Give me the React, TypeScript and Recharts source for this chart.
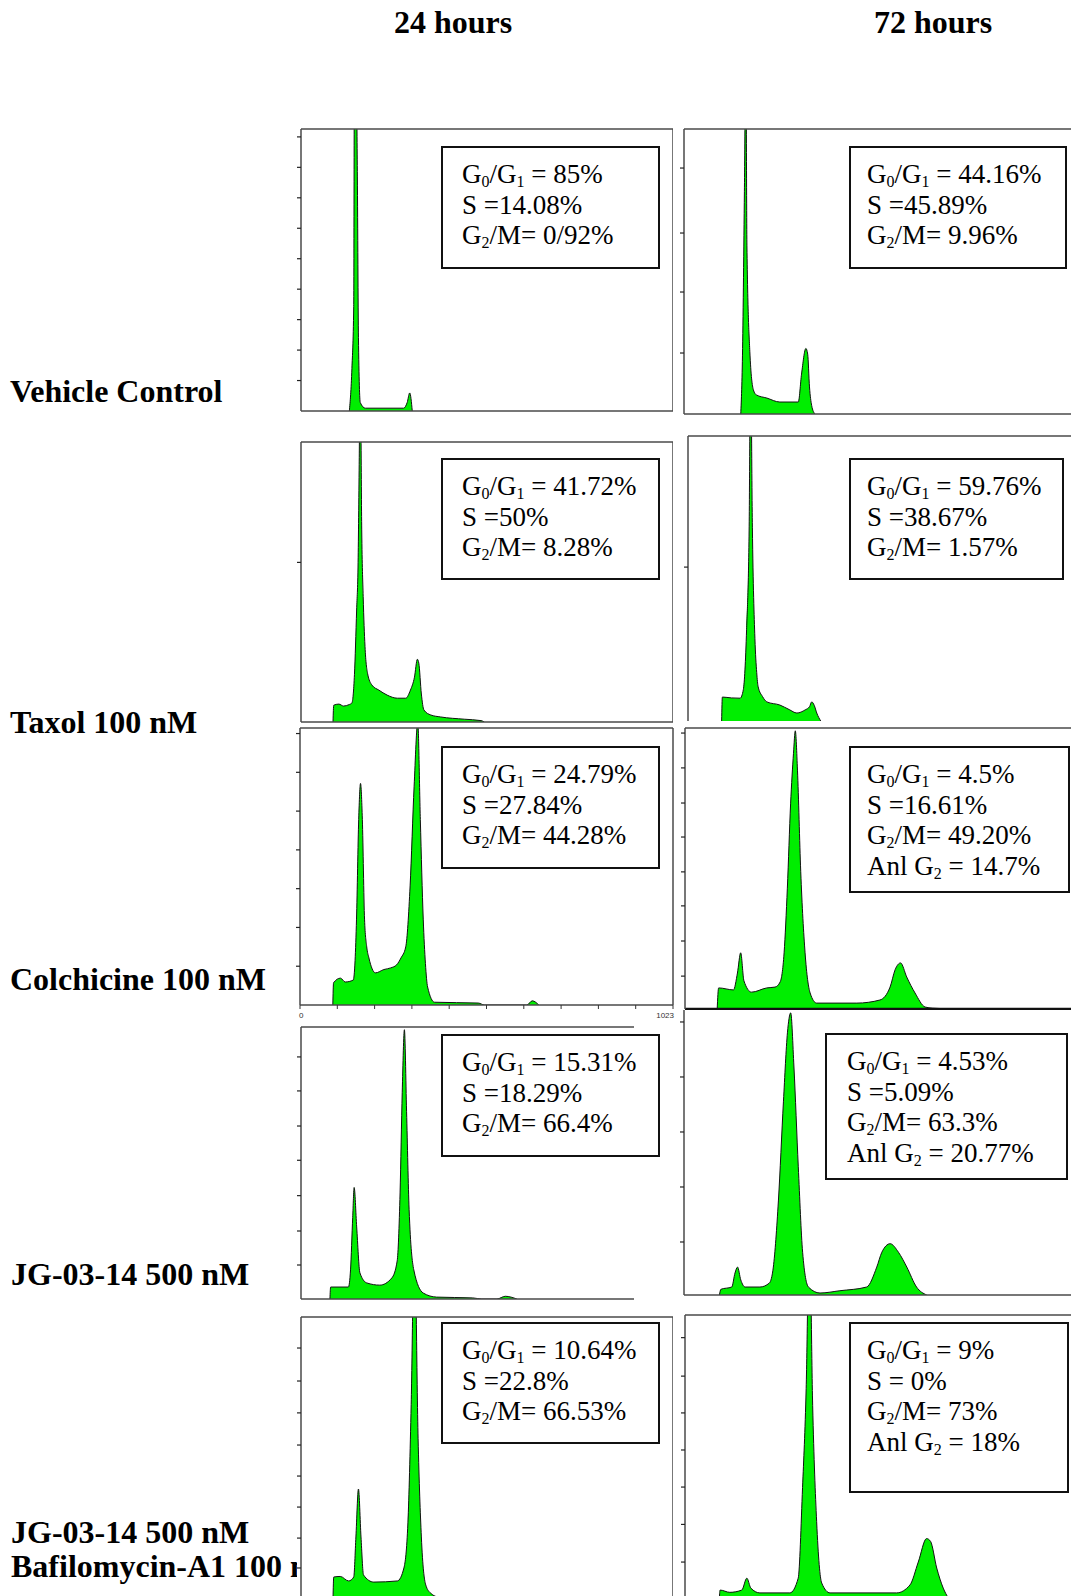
import React from "react"
import { Area, AreaChart, ReferenceLine, XAxis, YAxis } from "recharts"

// DNA histograms: [channel, count as % of panel height]; > 100 runs off the top
const vehicle24h = [[133, 0], [140, 15], [145, 37], [147, 130], [151, 130], [155, 83], [158, 26], [163, 3], [177, 1], [282, 1], [292, 3], [299, 6.4], [306, 0]]
const vehicle72h = [[157, 0], [162, 23], [167, 78], [171, 130], [174, 59], [182, 22], [192, 8.4], [200, 6.7], [229, 5.6], [265, 4.2], [316, 4.2], [325, 14], [337, 23], [342, 21], [347, 9.5], [353, 3], [362, 0]]
const taxol24h = [[88, 0], [90, 6], [104, 6.4], [117, 5.7], [132, 6.2], [140, 6.8], [147, 17], [153, 40], [157, 57], [160, 92], [163, 130], [167, 68.6], [171, 44.8], [176, 27], [183, 17.4], [195, 13.2], [214, 11.4], [237, 9.6], [265, 8.5], [288, 8.5], [301, 11.4], [312, 16], [320, 22.4], [324, 21], [331, 10], [338, 4.3], [357, 2.5], [384, 1.8], [449, 1], [495, 0.5], [504, 0]]
const taxol72h = [[93, 0], [95, 8.4], [120, 8.1], [144, 8], [153, 11], [162, 32], [169, 67], [173, 130], [178, 68], [185, 29], [190, 17], [194, 12], [206, 8.6], [218, 6.7], [254, 5.6], [280, 4], [301, 2.8], [324, 3.9], [336, 5], [342, 6.7], [349, 5.5], [356, 2.8], [367, 0]]
const colchicine24h = [[90, 0], [92, 8], [111, 9.7], [124, 8.3], [146, 9], [151, 16], [155, 31], [161, 67], [166, 80], [171, 67], [177, 31], [183, 21], [189, 17], [207, 11.6], [230, 12.8], [249, 13.4], [265, 14.5], [277, 17], [290, 21], [302, 43], [313, 79], [323, 102], [330, 67], [338, 31], [344, 15], [350, 6.5], [369, 1], [489, 0.7], [506, 0], [622, 0], [637, 1.5], [655, 0]]
const colchicine72h = [[89, 0], [93, 7.5], [134, 6.8], [145, 12.8], [154, 20], [163, 10], [184, 6], [226, 7.5], [249, 7.8], [263, 9.6], [274, 20], [283, 43], [292, 73], [300, 91], [305, 99], [311, 85], [320, 49], [332, 20], [346, 5.7], [364, 2.1], [475, 2.1], [539, 3.2], [567, 7.8], [581, 14], [596, 16.4], [613, 11.4], [636, 5.7], [664, 0.7], [685, 0.3], [751, 0]]
const jg24h = [[80, 0], [82, 4.4], [131, 4.4], [137, 10.7], [143, 30], [147, 41], [154, 26.5], [163, 9.6], [182, 5.9], [218, 5.1], [251, 7.7], [266, 14], [274, 39], [280, 76], [286, 99], [292, 69], [299, 33], [312, 10.7], [338, 2.2], [375, 0.7], [475, 0.4], [500, 0], [542, 0], [565, 1], [597, 0]]
const jg72h = [[98, 0], [102, 2], [132, 2.8], [141, 7.7], [148, 9.8], [157, 5.3], [169, 2.8], [210, 2.8], [236, 4.2], [247, 9.8], [261, 33], [275, 68], [286, 92], [295, 99], [304, 80], [316, 45], [328, 15], [344, 2.8], [376, 0.7], [431, 1.5], [505, 2.8], [533, 9.8], [547, 15], [570, 18], [593, 15], [616, 9.8], [643, 2.8], [671, 0]]
const jgBaf24h = [[88, 0], [90, 7.8], [108, 8], [131, 6.4], [145, 7.8], [151, 22], [158, 39], [165, 22], [172, 8.5], [200, 6], [265, 6.4], [283, 11], [294, 27], [303, 69], [312, 130], [322, 57], [331, 22], [343, 5], [357, 2], [380, 0.5], [395, 0]]
const jgBaf72h = [[95, 0], [97, 2.8], [124, 2], [157, 2.8], [171, 7], [182, 3.5], [207, 1.8], [290, 1.8], [313, 7], [325, 39], [335, 74], [344, 130], [353, 68], [364, 27], [378, 5.3], [401, 1.8], [585, 1.8], [622, 4.6], [645, 12.7], [668, 21], [679, 20], [696, 10.6], [714, 3.5], [728, 0]]

// count-axis tick marks, % of panel height
const vehicle24Ticks = [10.8, 21.6, 32.4, 43.2, 54, 64.8, 75.6, 86.4, 97.2]
const vehicle72Ticks = [21.4, 42.8, 63.5, 86.3]
const taxol24Ticks = [57]
const taxol72Ticks = [54]
const colchicine24Ticks = [14, 28, 42, 56, 70, 84, 98]
const colchicine72Ticks = [11.7, 24.2, 36.7, 48.8, 61.2, 73.3, 85.8, 98.2]
const jg24Ticks = [12.5, 25, 38, 51, 63.6, 76.5, 89]
const jg72Ticks = [18.6, 37.9, 57.2, 76.5, 95.8]
const jgBaf24Ticks = [11, 21.6, 32.6, 43.6, 54.6, 66, 77.3, 89]
const jgBaf72Ticks = [12.7, 26, 39.2, 52.3, 65.4, 78.4, 92]
const channelTicks = [0, 102.3, 204.6, 306.9, 409.2, 511.5, 613.8, 716.1, 818.4, 920.7, 1023]

// cell-cycle fractions ("_n" = subscript)
const vehicle24Stats = ["G_0/G_1 = 85%", "S =14.08%", "G_2/M= 0/92%"]
const vehicle72Stats = ["G_0/G_1 = 44.16%", "S =45.89%", "G_2/M= 9.96%"]
const taxol24Stats = ["G_0/G_1 = 41.72%", "S =50%", "G_2/M= 8.28%"]
const taxol72Stats = ["G_0/G_1 = 59.76%", "S =38.67%", "G_2/M= 1.57%"]
const colchicine24Stats = ["G_0/G_1 = 24.79%", "S =27.84%", "G_2/M= 44.28%"]
const colchicine72Stats = ["G_0/G_1 = 4.5%", "S =16.61%", "G_2/M= 49.20%", "Anl G_2 = 14.7%"]
const jg24Stats = ["G_0/G_1 = 15.31%", "S =18.29%", "G_2/M= 66.4%"]
const jg72Stats = ["G_0/G_1 = 4.53%", "S =5.09%", "G_2/M= 63.3%", "Anl G_2 = 20.77%"]
const jgBaf24Stats = ["G_0/G_1 = 10.64%", "S =22.8%", "G_2/M= 66.53%"]
const jgBaf72Stats = ["G_0/G_1 = 9%", "S = 0%", "G_2/M= 73%", "Anl G_2 = 18%"]

const columnTitles = ["24 hours", "72 hours"]
const rowLabels = ["Vehicle Control", "Taxol 100 nM", "Colchicine 100 nM", "JG-03-14 500 nM", "JG-03-14 500 nM", "Bafilomycin-A1 100 nM"]

const SERIF = "'Liberation Serif', 'Times New Roman', serif"
const FRAME = "#4a4a4a"
const GREEN = "#00ee00"

type Panel = {
  id: string
  data: number[][]
  ticks: number[]
  stats: string[]
  left: number
  top: number
  width: number
  height: number
  xMax: number
  edges: { top?: boolean; right?: boolean; bottom?: boolean; heavyBottom?: boolean }
  box: number[]
  textX: number
  channelAxis?: boolean
}

const panels: Panel[] = [
  { id: "v24", data: vehicle24h, ticks: vehicle24Ticks, stats: vehicle24Stats, left: 301, top: 129, width: 372, height: 282, xMax: 1023, edges: { top: true, right: true, bottom: true }, box: [442, 147, 217, 121], textX: 462 },
  { id: "v72", data: vehicle72h, ticks: vehicle72Ticks, stats: vehicle72Stats, left: 684, top: 129, width: 400, height: 285, xMax: 1106, edges: { top: true, bottom: true }, box: [850, 147, 216, 121], textX: 867 },
  { id: "t24", data: taxol24h, ticks: taxol24Ticks, stats: taxol24Stats, left: 301, top: 442, width: 372, height: 280, xMax: 1023, edges: { top: true, right: true, bottom: true }, box: [442, 459, 217, 120], textX: 462 },
  { id: "t72", data: taxol72h, ticks: taxol72Ticks, stats: taxol72Stats, left: 688, top: 436, width: 400, height: 285, xMax: 1106, edges: { top: true }, box: [850, 459, 213, 120], textX: 867 },
  { id: "c24", data: colchicine24h, ticks: colchicine24Ticks, stats: colchicine24Stats, left: 300, top: 728, width: 373, height: 277, xMax: 1023, edges: { top: true, right: true, bottom: true }, box: [442, 747, 217, 121], textX: 462, channelAxis: true },
  { id: "c72", data: colchicine72h, ticks: colchicine72Ticks, stats: colchicine72Stats, left: 685, top: 728, width: 400, height: 281, xMax: 1106, edges: { top: true, heavyBottom: true }, box: [850, 747, 219, 145], textX: 867 },
  { id: "j24", data: jg24h, ticks: jg24Ticks, stats: jg24Stats, left: 301, top: 1027, width: 333, height: 272, xMax: 921, edges: { top: true, bottom: true }, box: [442, 1035, 217, 121], textX: 462 },
  { id: "j72", data: jg72h, ticks: jg72Ticks, stats: jg72Stats, left: 684, top: 1010, width: 400, height: 285, xMax: 1106, edges: { bottom: true }, box: [826, 1034, 241, 145], textX: 847 },
  { id: "b24", data: jgBaf24h, ticks: jgBaf24Ticks, stats: jgBaf24Stats, left: 301, top: 1317, width: 372, height: 282, xMax: 1023, edges: { top: true, right: true }, box: [442, 1323, 217, 120], textX: 462 },
  { id: "b72", data: jgBaf72h, ticks: jgBaf72Ticks, stats: jgBaf72Stats, left: 685, top: 1315, width: 400, height: 283, xMax: 1106, edges: { top: true }, box: [850, 1323, 218, 169], textX: 867 },
]

const titleX = [453, 933]
const labelPos = [[10, 402], [10, 733], [10, 990], [11, 1285], [11, 1543], [11, 1577]]

const AXIS_W = 12

const ChannelTick = (props: any) => {
  const { x, y, payload } = props
  if (payload.value !== 0 && payload.value !== 1023) return <g />
  const first = payload.value === 0
  return (
    <text x={first ? x - 1 : x + 1} y={y + 7} fontSize={8} fill="#333" fontFamily="'Liberation Sans', Arial, sans-serif" textAnchor={first ? "start" : "end"}>
      {payload.value}
    </text>
  )
}

function Histogram({ p }: { p: Panel }) {
  const rows = p.data.map(([ch, v]) => ({ ch, v }))
  const extra = p.channelAxis ? 16 : 0
  const padRight = p.channelAxis ? 4 : 0
  return (
    <>
      <div style={{ position: "absolute", left: p.left - 4, top: p.top, width: p.width + 4, height: p.height, background: "#fff", zIndex: 1 }} />
      <div style={{ position: "absolute", left: p.left - AXIS_W, top: p.top - 1, zIndex: 2 }}>
        <AreaChart width={p.width + AXIS_W + padRight} height={p.height + 2 + extra} data={rows} margin={{ top: 1, right: padRight, bottom: 1, left: 0 }}>
          <XAxis
            type="number"
            dataKey="ch"
            domain={[0, p.xMax]}
            hide={!p.channelAxis}
            ticks={channelTicks}
            height={extra}
            axisLine={false}
            tickLine={{ stroke: "#333", strokeWidth: 1 }}
            tickSize={4}
            interval={0}
            tick={<ChannelTick />}
          />
          <YAxis
            type="number"
            domain={[0, 100]}
            allowDataOverflow
            ticks={p.ticks}
            width={AXIS_W}
            tickSize={4}
            interval={0}
            tickFormatter={() => ""}
            axisLine={{ stroke: FRAME, strokeWidth: 1.5 }}
            tickLine={{ stroke: "#222", strokeWidth: 1.2 }}
          />
          <Area
            type="monotoneX"
            dataKey="v"
            fill={GREEN}
            fillOpacity={1}
            stroke="#111"
            strokeWidth={1}
            dot={false}
            activeDot={false}
            isAnimationActive={false}
          />
          {p.edges.top && <ReferenceLine y={100} stroke={FRAME} strokeWidth={1.5} />}
          {p.edges.bottom && <ReferenceLine y={0} stroke={FRAME} strokeWidth={1.5} />}
          {p.edges.heavyBottom && <ReferenceLine y={0} stroke="#111" strokeWidth={2.5} />}
          {p.edges.right && <ReferenceLine x={p.xMax} stroke={FRAME} strokeWidth={1.5} />}
        </AreaChart>
      </div>
    </>
  )
}

function StatText({ text, x, y }: { text: string; x: number; y: number }) {
  const parts = text.split(/_(\d)/)
  return (
    <text x={x} y={y} fontSize={27} fontFamily={SERIF} fill="#000" style={{ whiteSpace: "pre" }}>
      {parts.map((part, i) =>
        i % 2 === 1 ? (
          <tspan key={i} fontSize={16} dy={4}>{part}</tspan>
        ) : (
          <tspan key={i} dy={i > 0 ? -4 : 0}>{part}</tspan>
        )
      )}
    </text>
  )
}

export default function App() {
  return (
    <div style={{ position: "relative", width: 1071, height: 1596, overflow: "hidden", background: "#fff" }}>
      <style>{"body{margin:0}"}</style>
      <svg width={1071} height={1596} style={{ position: "absolute", left: 0, top: 0, zIndex: 0 }}>
        {columnTitles.map((t, i) => (
          <text key={t} x={titleX[i]} y={33} textAnchor="middle" fontSize={32} fontWeight="bold" fontFamily={SERIF}>
            {t}
          </text>
        ))}
        {rowLabels.map((t, i) => (
          <text key={i} x={labelPos[i][0]} y={labelPos[i][1]} fontSize={32} fontWeight="bold" fontFamily={SERIF}>
            {t}
          </text>
        ))}
      </svg>
      {panels.map((p) => (
        <Histogram key={p.id} p={p} />
      ))}
      <svg width={1071} height={1596} style={{ position: "absolute", left: 0, top: 0, zIndex: 3, pointerEvents: "none" }}>
        {panels.map((p) => {
          const [bx, by, bw, bh] = p.box
          return (
            <g key={p.id}>
              <rect x={bx} y={by} width={bw} height={bh} fill="#fff" stroke="#111" strokeWidth={2} />
              {p.stats.map((line, i) => (
                <StatText key={i} text={line} x={p.textX} y={by + 36 + i * 30.5} />
              ))}
            </g>
          )
        })}
      </svg>
    </div>
  )
}
